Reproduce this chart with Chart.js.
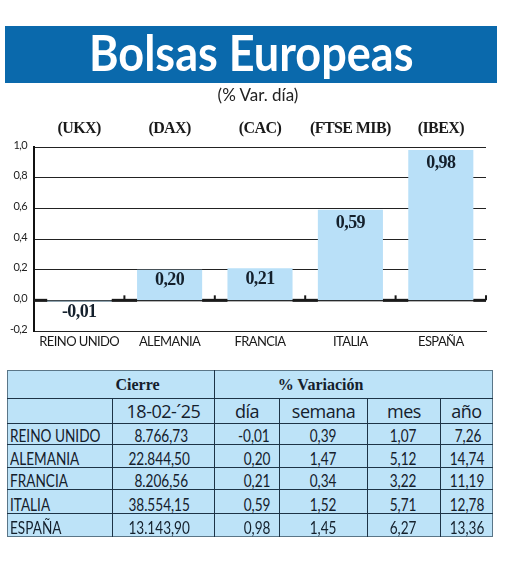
<!DOCTYPE html>
<html>

<head>
    <title>Bolsas Europeas</title>
    <style>
        html, body { margin: 0; background: #fff; }
        body { width: 520px; height: 561px; position: relative; overflow: hidden; }
        #myChart { position: absolute; left: 0; top: 0; }
        #band {
            position: absolute; left: 5px; top: 26px; width: 492px; height: 57px;
            background: #0a69ac; color: #fff; text-align: center;
            font: bold 50px/52px Lato;
        }
        #band span { display: inline-block; transform: scaleX(0.9); }
        #sub {
            position: absolute; left: 0; width: 516px; top: 85px; text-align: center;
            font: 17px/20px Lato; color: #222;
        }
        table {
            position: absolute; left: 7px; top: 370px; width: 485px; height: 166px;
            table-layout: fixed; border-collapse: collapse; background: #bde3f8;
            border: 1px solid #5a7688; color: #14202c;
            font: 17px/17px Lato;
        }
        td { padding: 0; border-bottom: 1px solid #1d3447; text-align: right; vertical-align: bottom; white-space: nowrap; }
        tr:last-child td { border-bottom: 0; }
        .head td { text-align: center; vertical-align: middle; font: bold 16px "Liberation Serif"; }
        .sub td { text-align: center; vertical-align: middle; font: 18px "Open Sans"; letter-spacing: -0.5px; }
        td.name { text-align: left; padding-left: 2px; }
        .sep { border-left: 1px solid #1d3447; }
        .narrow { display: inline-block; transform: scaleX(0.8); transform-origin: right bottom; }
        .name .narrow { transform-origin: left bottom; }
    </style>
</head>

<body>
    <canvas id="myChart" width="520" height="561"></canvas>
    <div id="band"><span>Bolsas Europeas</span></div>
    <div id="sub">(% Var. día)</div>
    <table id="tabla"></table>
    <script src="https://cdn.jsdelivr.net/npm/chart.js@4"></script>

    <script type="text/javascript">
        const countries = ['REINO UNIDO', 'ALEMANIA', 'FRANCIA', 'ITALIA', 'ESPAÑA'];
        const indexNames = ['(UKX)', '(DAX)', '(CAC)', '(FTSE MIB)', '(IBEX)'];
        const dayChange = [-0.01, 0.20, 0.21, 0.59, 0.98];
        const closeLabels = ['8.766,73', '22.844,50', '8.206,56', '38.554,15', '13.143,90'];
        const dayLabels = ['-0,01', '0,20', '0,21', '0,59', '0,98'];
        const weekLabels = ['0,39', '1,47', '0,34', '1,52', '1,45'];
        const monthLabels = ['1,07', '5,12', '3,22', '5,71', '6,27'];
        const yearLabels = ['7,26', '14,74', '11,19', '12,78', '13,36'];

        const comma = v => v.toFixed(2).replace('.', ',');

        // value labels and the heavy zero line with its little ticks
        const extras = {
            id: 'extras',
            beforeDraw(chart) {
                chart.ctx.letterSpacing = '-0.6px';
            },
            afterDatasetsDraw(chart) {
                const c = chart.ctx, x = chart.scales.x, y = chart.scales.y, y0 = y.getPixelForValue(0);
                c.save();
                c.strokeStyle = '#1a1a1a';
                c.lineWidth = 1;
                c.beginPath();
                c.moveTo(x.left, y0 + 0.5);
                c.lineTo(x.right, y0 + 0.5);
                c.stroke();
                chart.getDatasetMeta(0).data.forEach((bar, i) => {
                    // thick piece in the gap after each bar
                    c.lineWidth = 3;
                    c.beginPath();
                    c.moveTo(bar.x + bar.width / 2, y0);
                    const next = chart.getDatasetMeta(0).data[i + 1];
                    c.lineTo(next ? next.x - next.width / 2 : x.right, y0);
                    c.stroke();
                    const edge = x.getPixelForValue(i) + (x.right - x.left) / 10;
                    c.lineWidth = 2;
                    c.beginPath();
                    c.moveTo(edge, y0);
                    c.lineTo(edge, y0 - 5);
                    c.stroke();
                    c.fillStyle = '#14202c';
                    c.font = 'bold 18px "Liberation Serif"';
                    c.textAlign = 'center';
                    c.textBaseline = 'middle';
                    const v = dayChange[i];
                    c.fillText(comma(v), bar.x, v < 0 ? bar.y + 10 : bar.y + 11 + (v > 0.5 ? 2 : 0));
                });
                c.lineWidth = 3;
                c.beginPath();
                c.moveTo(x.left, y0);
                c.lineTo(chart.getDatasetMeta(0).data[0].x - 32, y0);
                c.stroke();
                c.restore();
            }
        };

        new Chart(document.getElementById('myChart'), {
            type: 'bar',
            data: {
                labels: countries,
                datasets: [{
                    data: dayChange,
                    backgroundColor: '#b9e0f8',
                    barPercentage: 0.72,
                    categoryPercentage: 1
                }]
            },
            options: {
                responsive: false,
                animation: false,
                layout: { padding: { right: 34, bottom: 200 } },
                plugins: { legend: { display: false }, tooltip: { enabled: false } },
                scales: {
                    x: {
                        grid: { display: false, drawTicks: false },
                        border: { color: '#222' },
                        ticks: { color: '#1a1a1a', font: { family: 'Lato', size: 13 }, padding: 3, maxRotation: 0, autoSkip: false },
                        afterFit: s => { s.height = 30; }
                    },
                    x2: {
                        type: 'category',
                        labels: indexNames,
                        position: 'top',
                        grid: { display: false, drawTicks: false },
                        border: { display: false },
                        ticks: { color: '#1a1a1a', font: { family: 'Liberation Serif', size: 16, weight: 'bold' }, padding: 9, maxRotation: 0, autoSkip: false },
                        afterFit: s => { s.height = 147; }
                    },
                    y: {
                        min: -0.2,
                        max: 1,
                        afterFit: s => { s.width = 34; },
                        border: { color: '#111', width: 2 },
                        grid: { color: '#222', lineWidth: 1, drawTicks: false },
                        ticks: {
                            stepSize: 0.2,
                            color: '#222',
                            padding: 7,
                            labelOffset: -2,
                            font: { family: 'Lato', size: 11 },
                            callback: v => (Math.abs(v) < 1e-9 ? 0 : v).toFixed(1).replace('.', ',')
                        }
                    }
                }
            },
            plugins: [extras]
        });

        // table under the chart
        const colWidths = [105, 102, 65, 88, 73, 52];
        const rightPad = [0, 26, 9, 31, 24, 11];
        const rowHeights = [24, 21, 23, 22, 24, 23];
        const narrow = t => '<span class="narrow">' + t + '</span>';
        let html = '<colgroup>' + colWidths.map(w => '<col style="width:' + w + 'px">').join('') + '</colgroup>';
        html += '<tr class="head" style="height:28px"><td colspan="2" style="padding-left:53px">Cierre</td>' +
            '<td colspan="4" class="sep" style="padding-right:66px">% Variación</td></tr>';
        html += '<tr class="sub" style="height:' + rowHeights[0] + 'px"><td></td><td class="sep">18-02-´25</td>' +
            ['día', 'semana', 'mes', 'año'].map(t => '<td class="sep">' + t + '</td>').join('') + '</tr>';
        countries.forEach((name, i) => {
            const cells = [closeLabels[i], dayLabels[i], weekLabels[i], monthLabels[i], yearLabels[i]];
            html += '<tr style="height:' + rowHeights[i + 1] + 'px"><td class="name">' + narrow(name) + '</td>' +
                cells.map((t, j) => '<td class="sep" style="padding-right:' + rightPad[j + 1] + 'px">' + narrow(t) + '</td>').join('') + '</tr>';
        });
        document.getElementById('tabla').innerHTML = html;
    </script>
</body>

</html>
